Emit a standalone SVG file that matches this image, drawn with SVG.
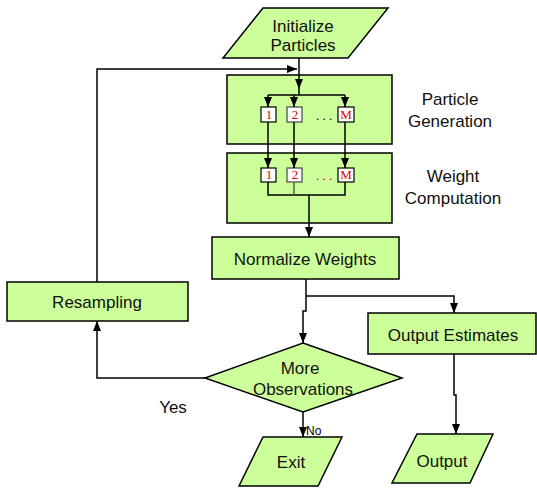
<svg xmlns="http://www.w3.org/2000/svg" width="537" height="488" viewBox="0 0 537 488">
<style>
.n{fill:#CCFF99;stroke:#000;stroke-width:1.5}
.t{font-family:"Liberation Sans",Arial,sans-serif;font-size:17px;fill:#111;text-anchor:middle}
.sb{fill:#fff;stroke:#000;stroke-width:1.2}
.d{font-family:"Liberation Serif","Times New Roman",serif;font-size:13px;fill:#E00000;text-anchor:middle}
.c{fill:none;stroke:#000;stroke-width:1.5}
.dots{font-family:"Liberation Serif",serif;font-size:13px;text-anchor:middle}
</style>
<defs>
<marker id="ah" markerUnits="userSpaceOnUse" markerWidth="10" markerHeight="10" viewBox="0 0 10 10" refX="10" refY="5" orient="auto">
<path d="M0,1 L10,5 L0,9 Z" fill="#000"/>
</marker>
</defs>
<rect width="537" height="488" fill="#fff"/>

<g id="init">
<polygon class="n" points="263,8 388,8 348,58 223,58"/>
<text class="t" x="303" y="32">Initialize</text>
<text class="t" x="303" y="51">Particles</text>
</g>

<g id="particle-generation">
<rect class="n" x="227" y="75" width="165" height="69"/>
<rect class="sb" x="261" y="107" width="15" height="15"/>
<text class="d" x="269" y="119">1</text>
<rect class="sb" x="287" y="107" width="15" height="15" style="stroke:#444"/>
<text class="d" x="295" y="119">2</text>
<text class="dots" x="324" y="120" fill="#000">. . .</text>
<rect class="sb" x="338" y="107" width="16" height="15"/>
<text class="d" x="346" y="119">M</text>
</g>
<g id="label-pg">
<text class="t" x="450" y="105">Particle</text>
<text class="t" x="450" y="127">Generation</text>
</g>

<g id="weight-computation">
<rect class="n" x="227" y="153" width="165" height="70"/>
<rect class="sb" x="261" y="168" width="15" height="14"/>
<text class="d" x="269" y="179">1</text>
<rect class="sb" x="287" y="168" width="15" height="14" style="stroke:#444"/>
<text class="d" x="295" y="179">2</text>
<text class="dots" x="324" y="180" fill="#E00000">. . .</text>
<rect class="sb" x="338" y="168" width="16" height="14"/>
<text class="d" x="346" y="179">M</text>
</g>
<g id="label-wc">
<text class="t" x="453" y="182">Weight</text>
<text class="t" x="453" y="204">Computation</text>
</g>

<g id="normalize">
<rect class="n" x="212" y="237" width="187" height="42"/>
<text class="t" x="305" y="265">Normalize Weights</text>
</g>

<g id="resampling">
<rect class="n" x="7" y="282" width="181" height="39"/>
<text class="t" x="97" y="308">Resampling</text>
</g>

<g id="output-estimates">
<rect class="n" x="368" y="313" width="168" height="41"/>
<text class="t" x="453" y="341">Output Estimates</text>
</g>

<g id="more-observations">
<polygon class="n" points="303,343 402,378 303,412 205,378"/>
<text class="t" x="300" y="374">More</text>
<text class="t" x="303" y="395">Observations</text>
</g>

<g id="exit">
<polygon class="n" points="263,437 342,437 318,486 239,486"/>
<text class="t" x="291" y="468">Exit</text>
</g>

<g id="output">
<polygon class="n" points="417,434 493,434 470,483 392,483"/>
<text class="t" x="442" y="467">Output</text>
</g>

<g id="connectors">
<path class="c" d="M299,58 V89" marker-end="url(#ah)"/>
<path class="c" d="M299,89 V95"/>
<path class="c" d="M97,282 V69 H297" marker-end="url(#ah)"/>
<path class="c" d="M268,95 H345"/>
<path class="c" d="M268,95 V107" marker-end="url(#ah)"/>
<path class="c" d="M294,95 V107" marker-end="url(#ah)"/>
<path class="c" d="M345,95 V107" marker-end="url(#ah)"/>
<path class="c" d="M268,122 V168" marker-end="url(#ah)"/>
<path class="c" d="M294,122 V168" marker-end="url(#ah)"/>
<path class="c" d="M345,122 V168" marker-end="url(#ah)"/>
<path class="c" d="M268,182 V195 H345 V182"/>
<path class="c" d="M294,182 V195" style="stroke:#556633"/>
<path class="c" d="M309,195 V237" marker-end="url(#ah)"/>
<path class="c" d="M306,279 V311 H303 V343" marker-end="url(#ah)"/>
<path class="c" d="M306,296 H454 V313" marker-end="url(#ah)"/>
<path class="c" d="M205,378 H97 V321" marker-end="url(#ah)"/>
<path class="c" d="M303,412 V437" marker-end="url(#ah)"/>
<path class="c" d="M454,354 V395 H456 V434" marker-end="url(#ah)"/>
</g>

<g id="labels">
<text class="t" x="173" y="413">Yes</text>
<text x="306" y="435" style="font-family:'Liberation Sans',Arial,sans-serif;font-size:12px;fill:#000">No</text>
</g>
</svg>
